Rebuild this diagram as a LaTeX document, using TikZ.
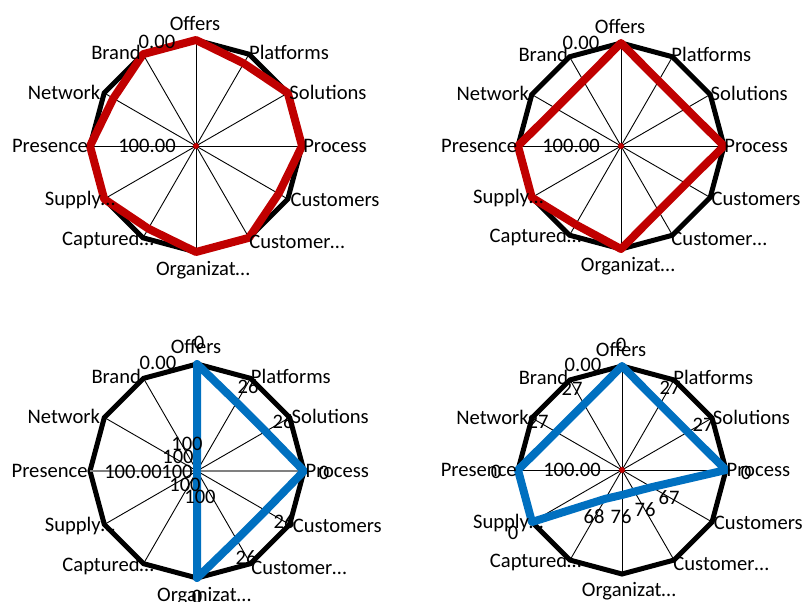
\documentclass[tikz,border=0pt]{standalone}
\usepackage{fontspec}
\setmainfont{Carlito}
\usetikzlibrary{calc}
\definecolor{chartred}{RGB}{192,0,0}
\definecolor{chartblue}{RGB}{0,112,192}
\tikzset{
	spoke/.style={line width=0.9pt, color=black},
	ring/.style={line width=5pt, color=black, line join=miter},
	series/.style={line width=8pt, line join=round},
	lab/.style={font=\fontsize{20.6}{24}\selectfont, inner sep=0pt}
}
\def\radarframe(#1)(#2){\foreach \a in {0,30,...,330} \draw[spoke] (#1) -- ($(#1)+(\a:#2)$);
	\draw[ring] ($(#1)+(90:#2)$) \foreach \i in {1,...,11} { -- ($(#1)+({90-30*\i}:#2)$) } -- cycle;}
\def\radarnames(#1)(#2){\foreach \t/\dx/\dy [count=\k] in {Offers/-1/123, Platforms/93/94, Solutions/132/54, Process/139/0, Customers/139/-54, Customer…/101/-96, Organizat…/7/-124, Captured…/-88/-94, Supply…/-116/-54, Presence/-146/0, Network/-132/54, Brand/-80/94}
	\node[lab] (#1-c\k) at ($(#1)+({\dx*#2/106},{\dy*#2/106})$) {\t};}
\def\radarline[#1](#2)(#3)#4#5{\draw[series,#1] ($(#2)+(90:{#3*#4})$) \foreach \v [count=\i] in {#5} { -- ($(#2)+({90-30*\i}:{#3*\v})$) } -- cycle;}

\begin{document}
\begin{tikzpicture}[x=1pt, y=1pt]
		%%%%% START %%%%%
		
		\useasboundingbox (0, 0) rectangle (806, -602);
		\coordinate (tl) at (196, -146);
		\coordinate (tr) at (621, -146);
		\coordinate (bl) at (197, -471);
		\coordinate (br) at (622, -470);
		
		% top left
		\radarframe(tl)(106)
		\radarline[chartred](tl)(106){1}{.9,1,1,.9,1,1,.9,1,1,.9,1}
		\fill[chartred] (tl) circle (3);
		\radarnames(tl)(106)
		\node[lab] (tl-max) at ($(tl)+(-39, 104)$) {0.00};
		\node[lab] (tl-min) at ($(tl)+(-49, 0)$) {100.00};
		
		% top right
		\radarframe(tr)(103)
		\radarline[chartred](tr)(103){1}{.73,.73,1,.73,.73,1,.88,1,1,.73,.73}
		\fill[chartred] (tr) circle (3);
		\radarnames(tr)(103)
		\node[lab] (tr-max) at ($(tr)+(-40, 103)$) {0.00};
		\node[lab] (tr-min) at ($(tr)+(-50, 0)$) {100.00};
		
		% bottom left
		\radarframe(bl)(107)
		\draw[line width=2pt, color=black!50] ($(bl)+(180:107)$) -- ($(bl)+(0:107)$);
		\radarline[chartblue](bl)(107){1}{.74,.74,1,.74,.74,1,0,0,0,0,0}
		\radarnames(bl)(107)
		\node[lab] (bl-max) at ($(bl)+(-39, 108)$) {0.00};
		\node[lab] (bl-min) at ($(bl)+(-64, -1)$) {100.00};
		\foreach \t/\dx/\dy [count=\k] in {0/2/128, 26/51/84, 26/86/49, 0/127/-2, 26/87/-51, 26/49/-87, 0/0/-126, 100/3/-26, 100/-12/-14, 100/-20/-1, 100/-19/14, 100/-10/27}
			\node[lab] (bl-v\k) at ($(bl)+(\dx, \dy)$) {\t};
		
		% bottom right
		\radarframe(br)(104)
		\radarline[chartblue](br)(104){1}{.73,.73,1,.33,.24,.24,.32,1,1,.73,.73}
		\fill[chartred] (br) circle (3);
		\radarnames(br)(104)
		\node[lab] (br-max) at ($(br)+(-39, 105)$) {0.00};
		\node[lab] (br-min) at ($(br)+(-50, 0)$) {100.00};
		\foreach \t/\dx/\dy [count=\k] in {0/-1/125, 27/48/82, 27/81/45, 0/124/-3, 67/47/-28, 76/23/-40, 76/-1/-47, 68/-28/-47, 0/-109/-63, 0/-126/-2, 27/-84/48, 27/-50/81}
			\node[lab] (br-v\k) at ($(br)+(\dx, \dy)$) {\t};
		
		%%%%% END %%%%%
\end{tikzpicture}
\end{document}
